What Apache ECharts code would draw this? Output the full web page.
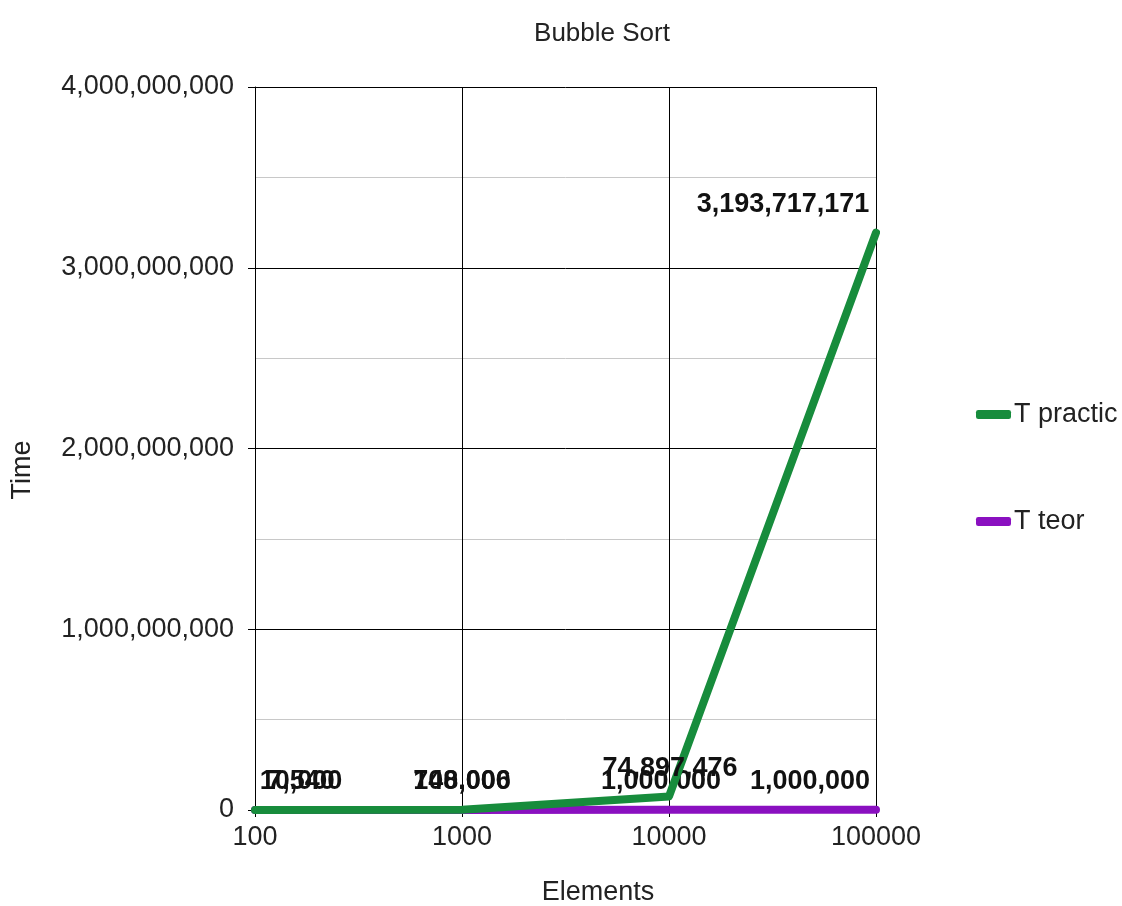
<!DOCTYPE html>
<html>
<head>
<meta charset="utf-8">
<script src="https://cdn.jsdelivr.net/npm/echarts@6/dist/echarts.min.js"></script>
<style>
  html, body { margin: 0; padding: 0; background: #fff; }
  #chart { width: 1122px; height: 906px; }
</style>
</head>
<body>
<div id="chart"></div>
<script>
// Bubble sort timings: measured vs. theoretical
const elements = ['100', '1000', '10000', '100000'];
const tPractic = [7540, 748006, 74897476, 3193717171];
const tTeor = [10000, 100000, 1000000, 1000000];
const yTicks = [0, 1000000000, 2000000000, 3000000000, 4000000000];

const FONT = 'Liberation Sans, Arial, sans-serif';
const TEXT = '#222';
const fmt = v => Number(v).toLocaleString('en-US');

// nudge end-point labels inward so they stay inside the plot
function withLabels(values, dx) {
  return values.map((v, i) => ({ value: v, label: { offset: [dx[i], 0] } }));
}

const labelStyle = {
  show: true, position: 'top', distance: 14,
  fontFamily: FONT, fontSize: 27, fontWeight: 'bold', color: '#111',
  formatter: p => fmt(p.value)
};

const chart = echarts.init(document.getElementById('chart'));
chart.setOption({
  animation: false,
  backgroundColor: '#fff',
  title: {
    text: 'Bubble Sort',
    left: 597, top: 16, textAlign: 'center',
    textStyle: { fontFamily: FONT, fontSize: 26, fontWeight: 'normal', color: TEXT }
  },
  graphic: [
    {
      type: 'text', x: 598, y: 893,
      style: { text: 'Elements', fontFamily: FONT, fontSize: 27, fill: TEXT, align: 'center', verticalAlign: 'middle' }
    },
    {
      type: 'text', x: 23, y: 470, rotation: Math.PI / 2,
      style: { text: 'Time', fontFamily: FONT, fontSize: 27, fill: TEXT, align: 'center', verticalAlign: 'middle' }
    }
  ],
  legend: {
    orient: 'vertical',
    left: 971, top: 396,
    itemGap: 80,
    itemWidth: 35, itemHeight: 9,
    icon: 'roundRect',
    textStyle: { fontFamily: FONT, fontSize: 27, color: TEXT, padding: [0, 0, 0, -2] },
    data: ['T practic', 'T teor']
  },
  grid: { left: 255, right: 246, top: 87, bottom: 96 },
  xAxis: {
    type: 'category',
    data: elements,
    boundaryGap: false,
    axisLine: { lineStyle: { color: '#000', width: 1 } },
    axisTick: { show: true, alignWithLabel: true, length: 7, lineStyle: { color: '#000' } },
    axisLabel: { fontFamily: FONT, fontSize: 27, color: TEXT, margin: 14 },
    splitLine: { show: true, lineStyle: { color: '#000', width: 1 } }
  },
  yAxis: {
    type: 'value',
    min: yTicks[0], max: yTicks[yTicks.length - 1], interval: 1000000000,
    axisLine: { show: true, lineStyle: { color: '#000', width: 1 } },
    axisTick: { show: true, length: 7, lineStyle: { color: '#000' } },
    axisLabel: { fontFamily: FONT, fontSize: 27, color: TEXT, margin: 21, formatter: fmt },
    splitLine: { show: true, lineStyle: { color: '#000', width: 1 } },
    minorTick: { show: false, splitNumber: 2 },
    minorSplitLine: { show: true, lineStyle: { color: '#c8c8c8', width: 1 } }
  },
  series: [
    {
      name: 'T practic',
      type: 'line',
      data: withLabels(tPractic, [46, 0, 1, -93]),
      symbol: 'circle', symbolSize: 1,
      lineStyle: { width: 8, color: '#178c3c', cap: 'round', join: 'round' },
      itemStyle: { color: '#178c3c' },
      z: 3,
      label: labelStyle
    },
    {
      name: 'T teor',
      type: 'line',
      data: withLabels(tTeor, [46, 0, -8, -66]),
      symbol: 'circle', symbolSize: 1,
      lineStyle: { width: 8, color: '#8a10c0', cap: 'round', join: 'round' },
      itemStyle: { color: '#8a10c0' },
      z: 2,
      label: labelStyle
    }
  ]
});
</script>
</body>
</html>
